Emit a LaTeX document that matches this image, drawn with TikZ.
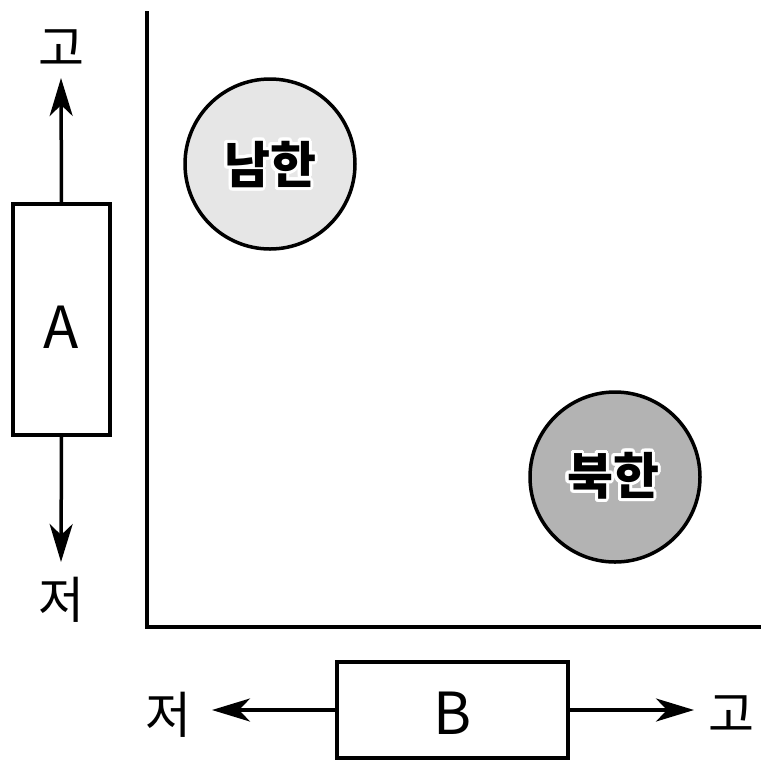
\documentclass[tikz,border=0pt]{standalone}
\usepackage{fontspec}
\setmainfont{Noto Sans CJK KR}
\usepackage{contour}
\contourlength{3pt}
\contournumber{32}
\usetikzlibrary{arrows.meta}
\definecolor{southfill}{HTML}{E6E6E6}
\definecolor{northfill}{HTML}{B3B3B3}
\begin{document}
\begin{tikzpicture}[x=1pt,y=-1pt,
  line width=3.5pt,
  arr/.style={-{Stealth[length=38pt,width=23pt,inset=11pt]}},
  boxnode/.style={draw,rectangle,inner sep=0pt,font=\fontsize{58}{60}\selectfont},
  lbl/.style={inner sep=0pt,font=\fontsize{50}{52}\selectfont},
  country/.style={draw,circle,inner sep=0pt,minimum size=170pt},
  ctext/.style={inner sep=0pt,font=\fontsize{50}{52}\selectfont\bfseries}
  ]
\useasboundingbox (0,0) rectangle (773,772);
% axes
\coordinate (ytop) at (147,13);
\coordinate (orig) at (147,627);
\coordinate (xend) at (759,627);
\draw[line cap=rect] (ytop) -- (orig) -- (xend);
% box A
\node[boxnode,minimum width=97pt,minimum height=231pt] (A) at (61.5,319.5) {\raisebox{-8pt}[\height][\depth]{A}};
\node[lbl] (Ahi) at (61,48) {고};
\node[lbl] (Alo) at (61,600) {저};
\draw[arr] (A.north) -- (61,78) coordinate (Ahitip);
\draw[arr] (A.south) -- (61,562) coordinate (Alotip);
% box B
\node[boxnode,minimum width=231pt,minimum height=96pt] (B) at (452.5,710) {\raisebox{-3pt}[\height][\depth]{B}};
\node[lbl] (Blo) at (168,715) {저};
\node[lbl] (Bhi) at (731,714) {고};
\draw[arr] (B.west) -- (212,710) coordinate (Blotip);
\draw[arr] (B.east) -- (694,710) coordinate (Bhitip);
% countries
\node[country,fill=southfill] (S) at (270,164) {};
\node[ctext] (St) at (270,166) {\contour{white}{남한}};
\node[country,fill=northfill] (N) at (615,477) {};
\node[ctext] (Nt) at (613,477) {\contour{white}{북한}};
\end{tikzpicture}
\end{document}
